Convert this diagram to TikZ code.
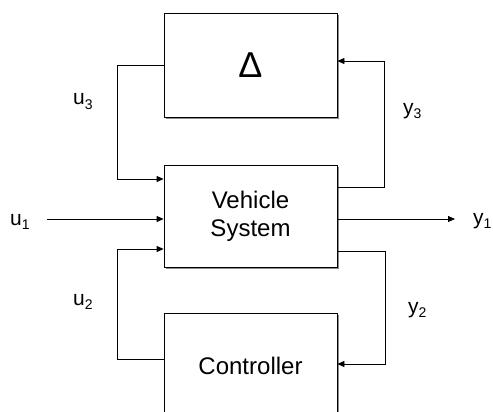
\documentclass[tikz,border=0pt]{standalone}
\usepackage{fontspec}
\setmainfont{Liberation Sans}
\usetikzlibrary{arrows.meta,calc,shadows}
\begin{document}
\begin{tikzpicture}[x=1pt,y=-1pt,
  blk/.style={draw, line width=0.8pt, fill=white, minimum width=173pt, inner sep=0pt,
    align=center, font=\fontsize{24}{28}\selectfont,
    drop shadow={shadow xshift=2pt, shadow yshift=-2pt, fill=black!45, opacity=1}},
  wire/.style={line width=0.8pt},
  arr/.style={wire, -{Triangle[length=7pt,width=6pt]}},
  lbl/.style={font=\fontsize{21}{24}\selectfont, inner sep=0pt, anchor=base west}]
\useasboundingbox (0,0) rectangle (493,412);
\newcommand{\sig}[2]{#1\raisebox{-0.45ex}{\fontsize{14}{16}\selectfont #2}}
% boxes
\node[blk, minimum height=104pt, font=\fontsize{36}{40}\selectfont] (delta) at (250.5,65) {Δ};
\node[blk, minimum height=102pt] (veh) at (250.5,216) {Vehicle\\System};
\node[blk, minimum height=106pt] (ctrl) at (250.5,366) {Controller};
% coordinates
\coordinate (dl) at (117,65);
\coordinate (vi3) at (164,179);
\coordinate (vo3) at (337,187);
\coordinate (di) at (337,61);
\coordinate (u1s) at (47,219);
\coordinate (vi1) at (164,219);
\coordinate (vo1) at (337,219);
\coordinate (y1e) at (455,219);
\coordinate (vi2) at (164,249);
\coordinate (vo2) at (337,251);
\coordinate (cl) at (164,359);
\coordinate (ci) at (337,364);
% connectors
\draw[arr] (delta.west |- dl) -| (117,179) -- (veh.west |- vi3);
\draw[arr] (veh.east |- vo3) -| (384,61) -- (delta.east |- di);
\draw[arr] (u1s) -- (veh.west |- vi1);
\draw[arr] (veh.east |- vo1) -- (y1e);
\draw[arr] (ctrl.west |- cl) -| (117,249) -- (veh.west |- vi2);
\draw[arr] (veh.east |- vo2) -| (385,364) -- (ctrl.east |- ci);
% labels
\node[lbl] (lu3) at (73,105) {\sig{u}{3}};
\node[lbl] (ly3) at (403,114) {\sig{y}{3}};
\node[lbl] (lu2) at (73,305) {\sig{u}{2}};
\node[lbl] (ly2) at (408,313) {\sig{y}{2}};
\node[lbl] (lu1) at (10,225) {\sig{u}{1}};
\node[lbl] (ly1) at (473,224) {\sig{y}{1}};
\end{tikzpicture}
\end{document}
